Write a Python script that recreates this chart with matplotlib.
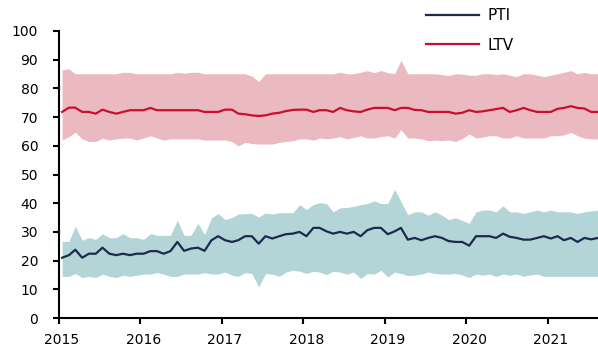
import matplotlib
matplotlib.use("Agg")
import matplotlib.pyplot as plt
import matplotlib.dates as mdates
import matplotlib.transforms as mtransforms
import pandas as pd
import numpy as np

# Monthly observations, Jan 2015 - Aug 2021 (plotted mid-month)
months = pd.date_range("2015-01-01", periods=80, freq="MS") + pd.Timedelta(days=14)

pti = [21.0, 21.9, 23.8, 21.0, 22.4, 22.4, 24.5, 22.4, 21.9, 22.4, 21.9, 22.4,
       22.4, 23.3, 23.3, 22.4, 23.3, 26.5, 23.4, 24.2, 24.5, 23.4, 27.1, 28.5,
       27.1, 26.5, 27.1, 28.5, 28.5, 25.9, 28.5, 27.7, 28.5, 29.2, 29.4, 30.0,
       28.5, 31.4, 31.4, 30.2, 29.4, 30.0, 29.4, 30.0, 28.5, 30.6, 31.4, 31.4,
       29.2, 30.2, 31.4, 27.3, 27.9, 27.1, 27.9, 28.5, 27.9, 26.8, 26.5, 26.5,
       25.2, 28.5, 28.5, 28.5, 27.9, 29.4, 28.3, 27.9, 27.3, 27.3, 27.9, 28.5,
       27.7, 28.5, 27.1, 27.9, 26.5, 27.9, 27.4, 27.9]
pti_low = [14.5, 14.5, 15.5, 14.1, 14.5, 14.1, 15.3, 14.5, 14.1, 14.9, 14.5, 14.9,
           15.3, 15.3, 15.8, 15.3, 14.5, 14.5, 15.3, 15.3, 15.3, 15.8, 15.3, 15.3,
           16.0, 14.9, 14.5, 15.8, 15.5, 10.8, 15.5, 15.3, 14.5, 16.0, 16.6, 16.3,
           15.5, 16.3, 16.0, 15.1, 16.3, 16.0, 15.3, 16.0, 13.8, 15.5, 15.3, 16.6,
           14.3, 16.0, 15.5, 14.8, 14.9, 15.3, 16.0, 15.5, 15.3, 15.3, 15.5, 15.0,
           14.1, 15.3, 14.9, 15.3, 14.5, 15.3, 14.9, 15.3, 14.5, 15.0, 15.3, 14.5,
           14.5, 14.5, 14.5, 14.5, 14.5, 14.5, 14.5, 14.5]
pti_high = [26.7, 26.7, 32.0, 27.1, 28.0, 27.4, 29.4, 28.0, 28.0, 29.4, 28.0, 28.0,
            27.4, 29.4, 28.8, 28.8, 28.8, 34.1, 28.8, 28.8, 33.0, 29.1, 34.9, 36.4,
            34.3, 35.0, 36.2, 36.4, 36.4, 35.2, 36.6, 36.2, 36.7, 36.7, 36.7, 39.5,
            37.8, 39.5, 40.2, 39.9, 37.0, 38.4, 38.5, 38.9, 39.5, 39.9, 40.8, 39.9,
            39.9, 44.8, 40.5, 36.0, 37.0, 37.0, 35.8, 37.0, 35.8, 34.3, 34.9, 34.0,
            33.0, 37.0, 37.6, 37.6, 37.0, 39.1, 37.0, 37.0, 36.4, 37.0, 37.6, 37.0,
            37.6, 37.0, 37.0, 37.0, 36.4, 37.0, 37.3, 37.6]

ltv = [71.8, 73.3, 73.3, 71.8, 71.8, 71.2, 72.6, 71.8, 71.2, 71.8, 72.4, 72.4,
       72.4, 73.2, 72.4, 72.4, 72.4, 72.4, 72.4, 72.4, 72.4, 71.8, 71.8, 71.8,
       72.6, 72.6, 71.2, 71.0, 70.6, 70.4, 70.6, 71.2, 71.5, 72.1, 72.5, 72.6,
       72.6, 71.8, 72.4, 72.4, 71.8, 73.2, 72.4, 72.0, 71.8, 72.6, 73.2, 73.2,
       73.2, 72.4, 73.2, 73.2, 72.5, 72.4, 71.8, 71.8, 71.8, 71.8, 71.2, 71.5,
       72.4, 71.8, 72.0, 72.4, 72.8, 73.2, 71.8, 72.4, 73.2, 72.4, 71.8, 71.8,
       71.8, 72.9, 73.2, 73.8, 73.2, 73.0, 71.8, 71.8]
ltv_low = [62.0, 63.2, 64.7, 62.4, 61.5, 61.5, 62.7, 62.0, 62.4, 62.7, 62.7, 62.0,
           62.7, 63.5, 62.7, 62.0, 62.4, 62.4, 62.4, 62.4, 62.4, 62.0, 62.0, 62.0,
           62.0, 61.5, 60.0, 61.2, 60.8, 60.6, 60.6, 60.6, 61.2, 61.5, 61.8, 62.4,
           62.4, 62.0, 62.7, 62.4, 62.7, 63.2, 62.4, 62.9, 63.5, 62.7, 62.7, 63.2,
           63.5, 62.7, 65.6, 62.7, 62.7, 62.4, 61.8, 62.0, 61.8, 62.0, 61.5, 62.5,
           64.1, 62.7, 63.0, 63.5, 63.5, 62.7, 62.7, 63.5, 62.7, 62.7, 62.7, 62.7,
           63.5, 63.5, 63.8, 64.7, 63.5, 62.7, 62.4, 62.4]
ltv_high = [86.5, 86.8, 85.1, 85.1, 85.1, 85.1, 85.1, 85.1, 85.1, 85.6, 85.6, 85.1,
            85.1, 85.1, 85.1, 85.1, 85.1, 85.6, 85.3, 85.6, 85.6, 85.1, 85.1, 85.1,
            85.1, 85.1, 85.1, 85.1, 84.3, 82.4, 85.1, 85.1, 85.1, 85.1, 85.1, 85.1,
            85.1, 85.1, 85.1, 85.1, 85.1, 85.6, 85.1, 85.1, 85.6, 86.2, 85.5, 86.2,
            85.5, 85.1, 89.8, 85.1, 85.1, 85.1, 85.1, 85.1, 84.8, 84.5, 85.1, 85.0,
            84.6, 84.6, 85.1, 85.1, 84.8, 85.1, 84.6, 84.1, 85.1, 85.1, 84.6, 84.1,
            84.6, 85.1, 85.6, 86.2, 85.1, 85.6, 85.1, 85.1]

pti_color = "#1c2a4d"
pti_band = "#b3d5d8"
ltv_color = "#c8102e"
ltv_band = "#ebb9c0"

fig = plt.figure(figsize=(5.98, 3.49), dpi=100)
ax = fig.add_axes([59 / 598, 31 / 349, 1 - 59 / 598, 1 - 62 / 349])

ax.fill_between(months, ltv_low, ltv_high, color=ltv_band, linewidth=0)
ax.fill_between(months, pti_low, pti_high, color=pti_band, linewidth=0)
l1, = ax.plot(months, pti, color=pti_color, lw=1.6, label="PTI")
l2, = ax.plot(months, ltv, color=ltv_color, lw=1.6, label="LTV")

ax.set_ylim(0, 100)
ax.set_yticks(np.arange(0, 101, 10))
ax.set_xlim(pd.Timestamp("2015-01-01"), months[-1])
ax.xaxis.set_major_locator(mdates.YearLocator())
ax.xaxis.set_major_formatter(mdates.DateFormatter("%Y"))

for s in ("top", "right"):
    ax.spines[s].set_visible(False)
for s in ("left", "bottom"):
    ax.spines[s].set_linewidth(1.5)
    ax.spines[s].set_color("black")
ax.tick_params(axis="both", direction="out", length=4.5, width=1.5,
               labelsize=10, colors="black")
ax.tick_params(axis="x", pad=6)
ax.tick_params(axis="y", pad=10.5)

# year labels sit a little to the right of their tick marks
shift = mtransforms.ScaledTranslation(3 / 100, 0, fig.dpi_scale_trans)
for lab in ax.get_xticklabels():
    lab.set_transform(lab.get_transform() + shift)

fig.legend(handles=[l1, l2], loc="upper left",
           bbox_to_anchor=(426 / 598, 1 - 8 / 349), frameon=False,
           fontsize=11, handlelength=3.5, handletextpad=0.5,
           labelspacing=0.95, borderpad=0, borderaxespad=0)

fig.savefig("out.png", dpi=100)
